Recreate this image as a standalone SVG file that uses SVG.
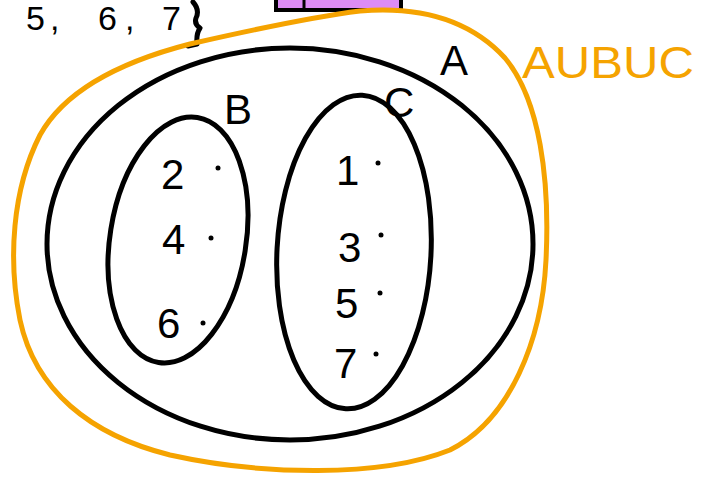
<svg xmlns="http://www.w3.org/2000/svg" width="702" height="482" viewBox="0 0 702 482">
<style>
.ink{fill:none;stroke:#000;stroke-width:5;stroke-linecap:round;stroke-linejoin:round}
.or{fill:none;stroke:#f5a300;stroke-width:5;stroke-linecap:round;stroke-linejoin:round}
.t{font-family:"Liberation Sans",Arial,sans-serif;font-size:42px;fill:#000}
.to{font-family:"Liberation Sans",Arial,sans-serif;font-size:44px;fill:#f5a300}
</style>
<rect width="702" height="482" fill="#fff"/>
<g id="top">
<rect x="276" y="-6" width="125" height="16" fill="#dd8cf5" stroke="#000" stroke-width="4"/>
<line x1="304" y1="0" x2="304" y2="10" stroke="#000" stroke-width="3"/>
<text class="t" y="30" style="font-size:34px"><tspan x="26">5</tspan><tspan x="50">,</tspan><tspan x="98">6</tspan><tspan x="125">,</tspan><tspan x="162">7</tspan></text>
<path class="ink" d="M193 2 Q200 10 196 18 Q194 24 200 28 Q196 34 197 44 L188 46"/>
</g>
<g id="AUBUC">
<path class="or" d="M190 44 C260 28 320 16 360 11 C420 6 470 20 505 58 C540 100 550 180 546 260 C542 340 510 420 450 450 C380 478 260 475 170 455 C90 435 35 390 20 320 C8 260 12 190 40 135 C65 90 120 62 190 44 Z"/>
<text class="to" x="522" y="78" textLength="172" lengthAdjust="spacingAndGlyphs">AUBUC</text>
</g>
<g id="A">
<ellipse class="ink" cx="290" cy="244" rx="243" ry="196"/>
<text class="t" x="440" y="75">A</text>
</g>
<g id="B">
<ellipse class="ink" cx="178" cy="240" rx="68" ry="124" transform="rotate(9 178 240)"/>
<text class="t" x="224" y="124">B</text>
<text class="t" x="161" y="189">2</text><circle cx="218" cy="168" r="2.5"/>
<text class="t" x="162" y="254">4</text><circle cx="211" cy="238" r="2.5"/>
<text class="t" x="157" y="338">6</text><circle cx="203" cy="323" r="2.5"/>
</g>
<g id="C">
<ellipse class="ink" cx="354" cy="252" rx="77" ry="157" transform="rotate(3 354 252)"/>
<text class="t" x="384" y="117">C</text>
<text class="t" x="336" y="185">1</text><circle cx="378" cy="163" r="2.5"/>
<text class="t" x="338" y="262">3</text><circle cx="381" cy="235" r="2.5"/>
<text class="t" x="335" y="318">5</text><circle cx="380" cy="293" r="2.5"/>
<text class="t" x="334" y="378">7</text><circle cx="376" cy="354" r="2.5"/>
</g>
</svg>
